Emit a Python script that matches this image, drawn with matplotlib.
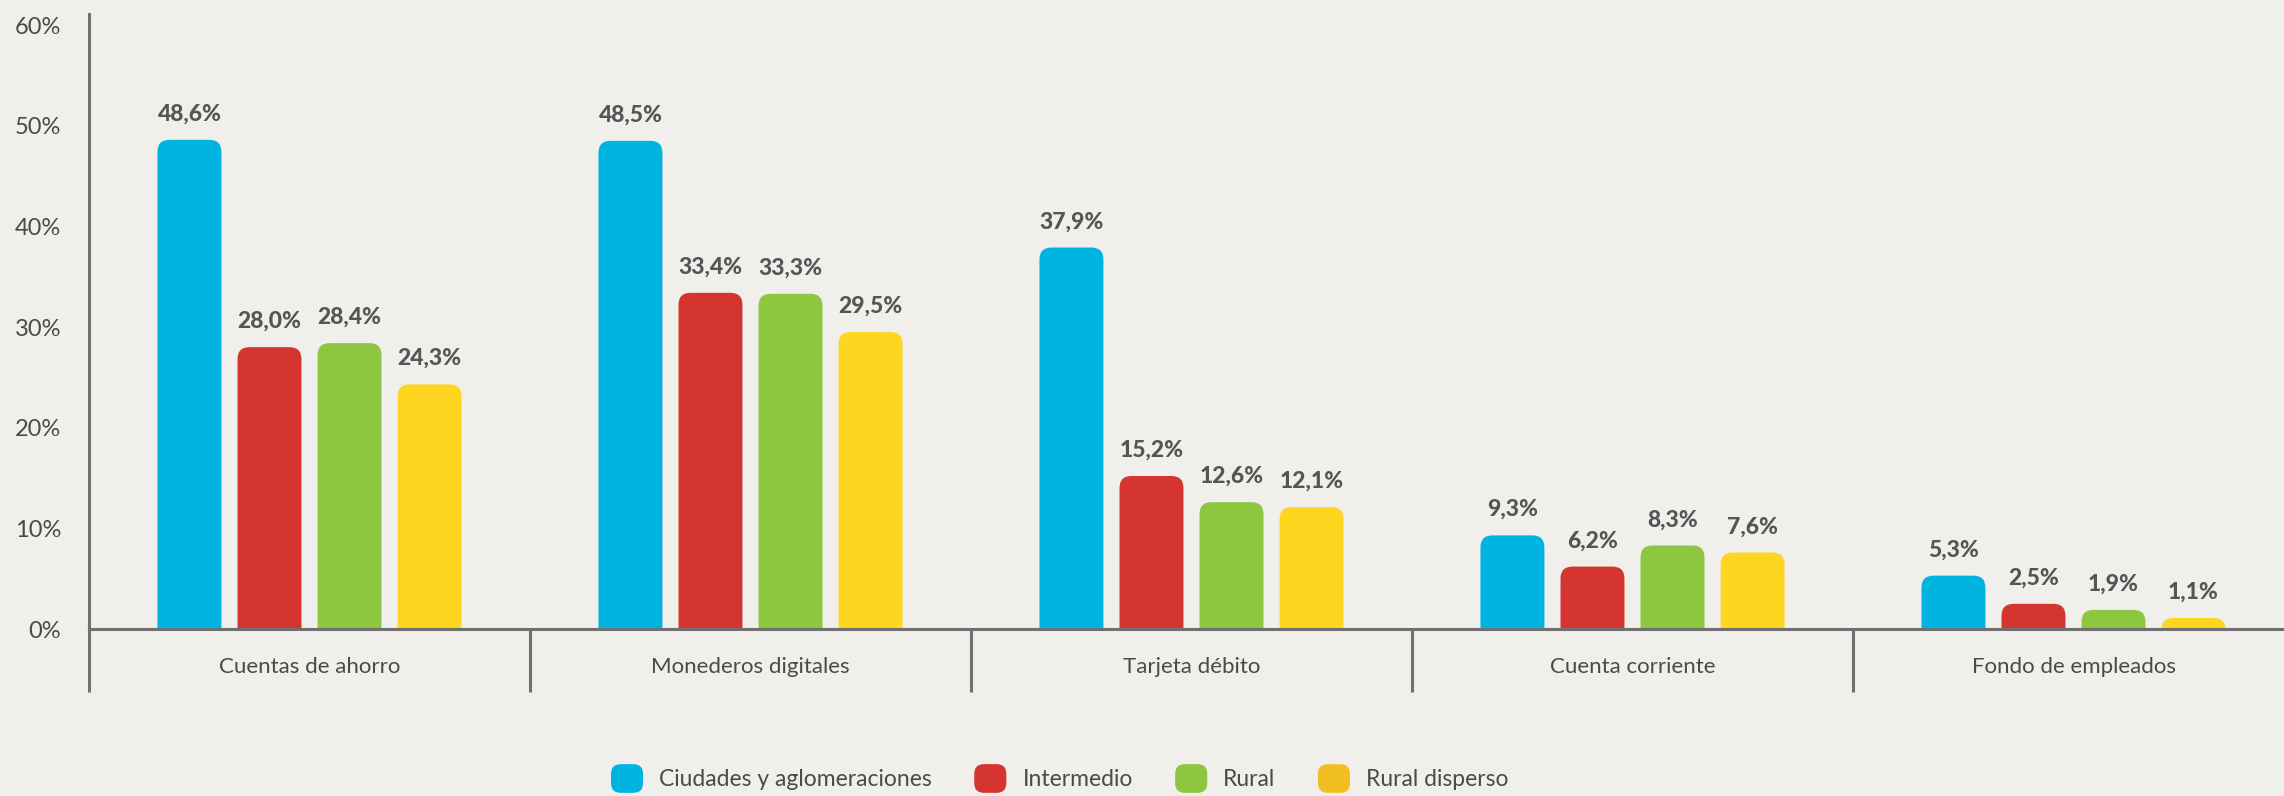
import numpy as np
import matplotlib
matplotlib.use("Agg")
import matplotlib.pyplot as plt
from matplotlib.patches import FancyBboxPatch, Patch
from matplotlib.legend_handler import HandlerPatch

categories = ["Cuentas de ahorro", "Monederos digitales", "Tarjeta débito",
              "Cuenta corriente", "Fondo de empleados"]
series = ["Ciudades y aglomeraciones", "Intermedio", "Rural", "Rural disperso"]
ciudades = [48.6, 48.5, 37.9, 9.3, 5.3]
intermedio = [28.0, 33.4, 15.2, 6.2, 2.5]
rural = [28.4, 33.3, 12.6, 8.3, 1.9]
rural_disperso = [24.3, 29.5, 12.1, 7.6, 1.1]
values = [ciudades, intermedio, rural, rural_disperso]
yticks = [0, 10, 20, 30, 40, 50, 60]

bar_colors = ["#00B4E2", "#D4352E", "#8DC63F", "#FFD61F"]
legend_colors = ["#00B4E2", "#D4352E", "#8DC63F", "#F1BF22"]
bg = "#F1EFEB"
axis_gray = "#707070"
text_gray = "#4A4A4A"
label_gray = "#555555"

plt.rcParams['font.family'] = ['Lato', 'DejaVu Sans']

W, H = 2284, 796
fig = plt.figure(figsize=(W / 100, H / 100), dpi=100)
fig.patch.set_facecolor(bg)
ax_l, ax_b, ax_w, ax_h = 89, 167, 2205, 615
ax = fig.add_axes([ax_l / W, ax_b / H, ax_w / W, ax_h / H])
ax.set_facecolor("none")
ax.set_xlim(-0.5, 4.5)
ax.set_ylim(0, 61.1)

x = np.arange(len(categories))
pitch = 0.1815
width = 0.145
offsets = (np.arange(len(series)) - 1.5) * pitch

# aspect between y data units and x data units per pixel
ypp = (61.1 - 0) / ax_h
xpp = 5.0 / ax_w
asp = ypp / xpp
r_px = 12
r_x = r_px * xpp
r_y = r_px * ypp

for i, vals in enumerate(values):
    bars = ax.bar(x + offsets[i], vals, width, color=bar_colors[i])
    for rect, v in zip(bars, vals):
        bx, by = rect.get_x(), rect.get_y()
        bw, bh = rect.get_width(), rect.get_height()
        rect.set_visible(False)
        p = FancyBboxPatch((bx, by - r_y), bw, bh + r_y,
                           boxstyle=f"round,pad=0,rounding_size={r_x}",
                           mutation_aspect=asp, facecolor=bar_colors[i],
                           edgecolor="none", zorder=1)
        p.set_clip_path(ax.patch)
        ax.add_patch(p)
        ax.annotate(f"{v:.1f}%".replace(".", ","), (bx + bw / 2, bh),
                    xytext=(0, 11), textcoords="offset points",
                    ha="center", va="bottom", fontsize=16.5,
                    fontweight="black", color=label_gray)

for s in ["top", "right"]:
    ax.spines[s].set_visible(False)
for s in ["left", "bottom"]:
    ax.spines[s].set_color(axis_gray)
    ax.spines[s].set_linewidth(2.2)

ax.set_yticks(yticks)
ax.set_yticklabels([f"{t}%" for t in yticks])
ax.tick_params(axis="y", length=0, pad=20, labelsize=17, labelcolor=text_gray)

ax.set_xticks(x)
ax.set_xticklabels(categories)
ax.tick_params(axis="x", which="major", length=0, pad=20, labelsize=16,
               labelcolor=text_gray)
ax.set_xticks(np.arange(-0.5, len(categories) + 0.5, 1), minor=True)
ax.tick_params(axis="x", which="minor", length=45, width=2.2,
               color=axis_gray, direction="out")


class RoundHandler(HandlerPatch):
    def create_artists(self, legend, orig_handle, xdescent, ydescent,
                       width, height, fontsize, trans):
        p = FancyBboxPatch((-xdescent, -ydescent), width, height,
                           boxstyle=f"round,pad=0,rounding_size={0.3 * width}",
                           facecolor=orig_handle.get_facecolor(),
                           edgecolor="none", transform=trans)
        return [p]


handles = [Patch(facecolor=c, label=l) for c, l in zip(legend_colors, series)]
fig.legend(handles=handles, loc="center", bbox_to_anchor=(0.464, 0.022),
           ncol=4, frameon=False, fontsize=16.5, labelcolor=text_gray,
           handlelength=1.4, handleheight=1.55, handletextpad=0.7,
           columnspacing=1.85, handler_map={Patch: RoundHandler()})

fig.savefig("out.png", dpi=100, facecolor=bg)
